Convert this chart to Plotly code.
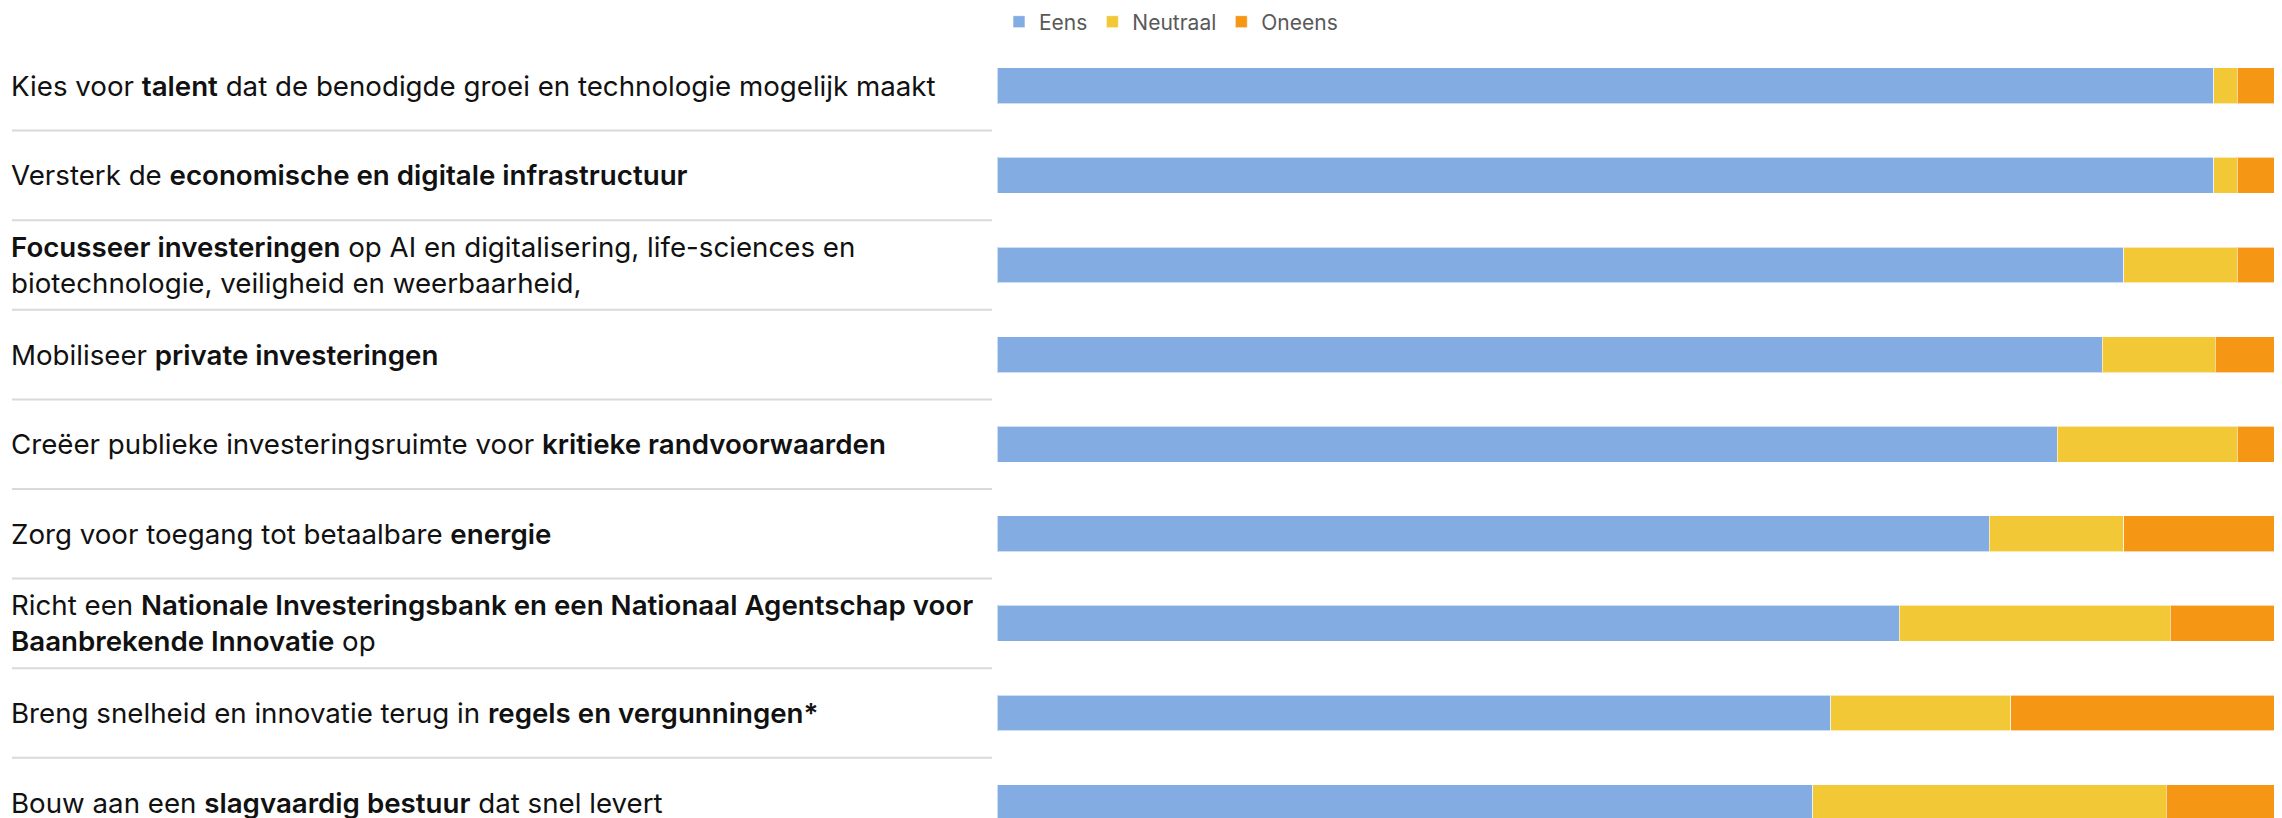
import plotly.graph_objects as go

B0 = '<span style="font-weight:600">'
B1 = '</span>'

labels = [
    f"Kies voor {B0}talent{B1} dat de benodigde groei en technologie mogelijk maakt",
    f"Versterk de {B0}economische en digitale infrastructuur{B1}",
    f"{B0}Focusseer investeringen{B1} op AI en digitalisering, life-sciences en<br>biotechnologie, veiligheid en weerbaarheid,",
    f"Mobiliseer {B0}private investeringen{B1}",
    f"Creëer publieke investeringsruimte voor {B0}kritieke randvoorwaarden{B1}",
    f"Zorg voor toegang tot betaalbare {B0}energie{B1}",
    f"Richt een {B0}Nationale Investeringsbank en een Nationaal Agentschap voor{B1}<br>{B0}Baanbrekende Innovatie{B1} op",
    f"Breng snelheid en innovatie terug in {B0}regels en vergunningen*{B1}",
    f"Bouw aan een {B0}slagvaardig bestuur{B1} dat snel levert",
]
categories = [f"q{i+1}" for i in range(len(labels))]

eens = [94.7, 94.7, 87.7, 86.0, 82.5, 77.2, 70.2, 64.9, 63.5]
neutraal = [1.8, 1.8, 8.8, 8.8, 14.0, 10.5, 21.1, 14.0, 27.5]
oneens = [3.5, 3.5, 3.5, 5.2, 3.5, 12.3, 8.7, 21.1, 9.0]

series = [
    ("Eens", eens, "#82ACE2"),
    ("Neutraal", neutraal, "#F3C836"),
    ("Oneens", oneens, "#F59614"),
]

# the page body adds an 8px offset around the figure
OFF = 8
W, H = 2282 - OFF, 818 - OFF
L, T = 997 - OFF, 41 - OFF
plot_w = W - L
plot_h = H - T
row_px = 89.6
y_bottom = -0.5 + plot_h / row_px

fig = go.Figure()
for name, vals, color in series:
    fig.add_trace(go.Bar(
        y=categories, x=vals, name=name, orientation="h",
        marker=dict(color=color, line=dict(color="rgba(255,255,255,0.6)", width=1)),
        width=0.4,
        hoverinfo="x+name",
    ))

label_font = dict(family="Inter, Lato, Roboto, sans-serif", size=27.7, color="#111111")
paper_x_label = (9 - OFF - L) / plot_w
for cat, lab in zip(categories, labels):
    fig.add_annotation(
        x=paper_x_label, xref="paper", y=cat, yref="y",
        text=lab, showarrow=False, xanchor="left", yanchor="middle",
        align="left", font=label_font,
    )

# separator lines between rows in the label area
for i in range(len(categories) - 1):
    fig.add_shape(
        type="line", xref="paper", yref="y",
        x0=(12 - OFF - L) / plot_w, x1=(992 - OFF - L) / plot_w,
        y0=i + 0.5, y1=i + 0.5,
        line=dict(color="#D9D9D9", width=2),
    )

fig.update_layout(
    width=W, height=H,
    barmode="stack",
    bargap=0.6,
    plot_bgcolor="white", paper_bgcolor="white",
    margin=dict(l=L, r=0, t=T, b=0, pad=0, autoexpand=False),
    xaxis=dict(range=[0, 100], visible=False, fixedrange=True),
    yaxis=dict(range=[y_bottom, -0.5], showticklabels=False, showgrid=False,
               zeroline=False, showline=False, ticks=""),
    showlegend=True,
    legend=dict(
        orientation="h", x=(999 - OFF - L) / plot_w, xanchor="left",
        y=1 + (T - (22 - OFF)) / plot_h, yanchor="middle",
        font=dict(family="Inter, Lato, Roboto, sans-serif", size=21, color="#595959"),
        itemwidth=30, traceorder="normal", bgcolor="rgba(0,0,0,0)",
    ),
)

fig.write_html("out.html")
